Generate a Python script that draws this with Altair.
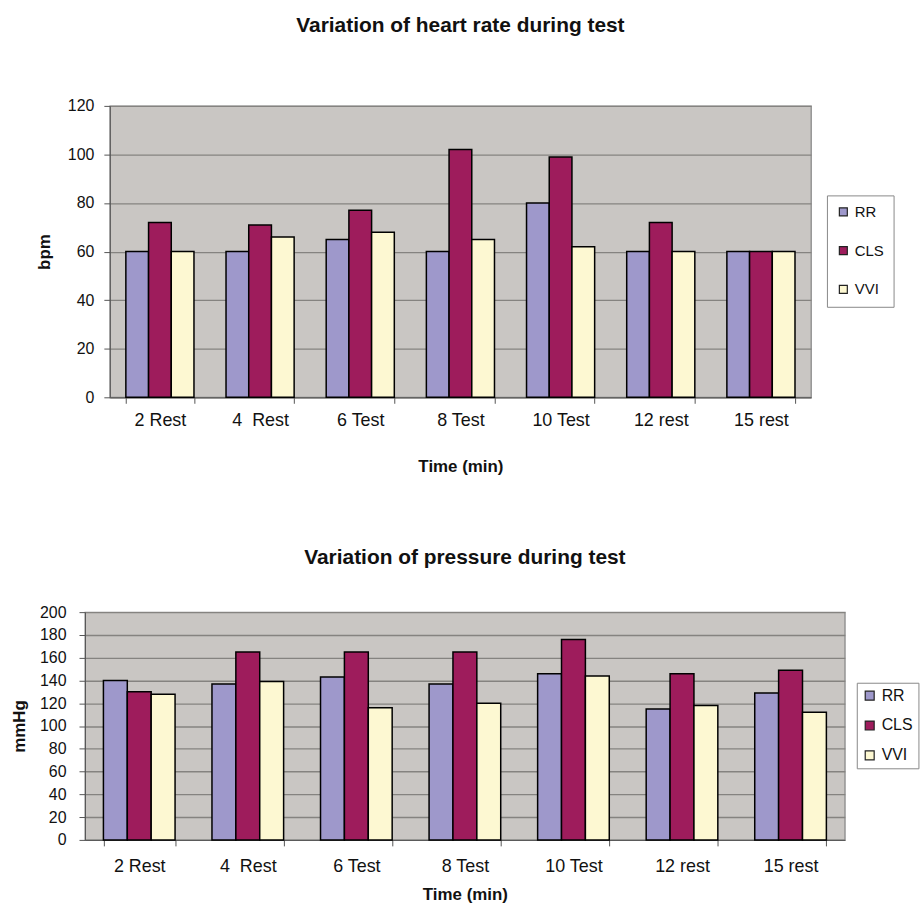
import altair as alt
import pandas as pd

categories = ["2 Rest", "4\u00a0 Rest", "6 Test", "8 Test", "10 Test", "12 rest", "15 rest"]
series = ["RR", "CLS", "VVI"]
colors = ["#9E98CB", "#9E1C5C", "#FDF8D2"]

hr_rr = [60, 60, 65, 60, 80, 60, 60]
hr_cls = [72, 71, 77, 102, 99, 72, 60]
hr_vvi = [60, 66, 68, 65, 62, 60, 60]

bp_rr = [140, 137, 143, 137, 146, 115, 129]
bp_cls = [130, 165, 165, 165, 176, 146, 149]
bp_vvi = [128, 139, 116, 120, 144, 118, 112]

hr_ticks = [0, 20, 40, 60, 80, 100, 120]
bp_ticks = [0, 20, 40, 60, 80, 100, 120, 140, 160, 180, 200]

FONT = "Liberation Sans"


def frame(rr, cls, vvi):
    rows = []
    for i, c in enumerate(categories):
        rows.append({"time": c, "series": "RR", "value": rr[i]})
        rows.append({"time": c, "series": "CLS", "value": cls[i]})
        rows.append({"time": c, "series": "VVI", "value": vvi[i]})
    return pd.DataFrame(rows)


def panel(df, title, ytitle, ticks, ymax, w, h, pin, pout, lg, ax):
    return alt.Chart(df).mark_bar(stroke="black", strokeWidth=1.5).encode(
        x=alt.X(
            "time:N",
            sort=categories,
            scale=alt.Scale(paddingInner=pin, paddingOuter=pout),
            axis=alt.Axis(
                title="Time (min)",
                labelAngle=0,
                tickBand="extent",
                grid=False,
                labelFont=FONT,
                labelFontSize=18,
                labelColor="#111",
                labelPadding=ax["xlabelpad"],
                tickSize=6,
                tickColor="#555",
                domainColor="#555",
                titleFont=FONT,
                titleFontSize=17,
                titleFontWeight="bold",
                titleColor="#111",
                titlePadding=ax["xtitlepad"],
            ),
        ),
        xOffset=alt.XOffset("series:N", sort=series,
                            scale=alt.Scale(paddingInner=0, paddingOuter=0)),
        y=alt.Y(
            "value:Q",
            scale=alt.Scale(domain=[0, ymax], nice=False),
            axis=alt.Axis(
                title=ytitle,
                values=ticks,
                grid=True,
                gridColor="#858380",
                gridWidth=1.3,
                labelFont=FONT,
                labelFontSize=16,
                labelColor="#111",
                labelPadding=ax["ylabelpad"],
                tickSize=6,
                tickColor="#555",
                domainColor="#555",
                titleFont=FONT,
                titleFontSize=17,
                titleFontWeight="bold",
                titleColor="#111",
                titlePadding=ax["ytitlepad"],
            ),
        ),
        color=alt.Color(
            "series:N",
            sort=series,
            scale=alt.Scale(domain=series, range=colors),
            legend=alt.Legend(
                title=None,
                orient="none",
                legendX=lg["x"],
                legendY=lg["y"],
                direction="vertical",
                padding=lg["pad"],
                strokeColor="#888",
                fillColor="white",
                rowPadding=lg["row"],
                symbolType="square",
                symbolSize=lg["sym"],
                symbolStrokeColor="#222",
                symbolStrokeWidth=1.2,
                labelFont=FONT,
                labelFontSize=lg["font"],
                labelColor="#111",
                labelOffset=lg["loff"],
            ),
        ),
    ).properties(
        width=w,
        height=h,
        title=alt.TitleParams(
            text=title,
            font=FONT,
            fontSize=21,
            fontWeight="bold",
            color="#111",
            anchor="middle",
            offset=ax["titleoff"],
        ),
    )


top = panel(
    frame(hr_rr, hr_cls, hr_vvi),
    "Variation of heart rate during test", "bpm", hr_ticks, 120,
    705, 293, 0.32, 0.16,
    {"x": 721, "y": 90, "pad": 9, "row": 23, "sym": 64, "font": 15, "loff": 4},
    {"xlabelpad": 8, "xtitlepad": 30, "ylabelpad": 10,
     "ytitlepad": 14, "titleoff": 62},
)

bottom = panel(
    frame(bp_rr, bp_cls, bp_vvi),
    "Variation of pressure during test", "mmHg", bp_ticks, 200,
    764, 229, 0.34, 0.17,
    {"x": 776, "y": 71, "pad": 5, "row": 14, "sym": 81, "font": 16, "loff": 4},
    {"xlabelpad": 12, "xtitlepad": 11, "ylabelpad": 13,
     "ytitlepad": 11, "titleoff": 36},
)

chart = alt.vconcat(top, bottom, spacing=71, center=True).resolve_scale(
    x="independent", y="independent", color="independent", xOffset="independent"
).resolve_legend(color="independent").configure_view(
    fill="#C9C6C3", stroke="#8a8a8a", strokeWidth=1.3
).properties(
    padding={"left": 10, "top": 12, "right": 0, "bottom": 0},
    background="white",
)

chart.save("out.html", embed_options={"renderer": "svg", "actions": False})
